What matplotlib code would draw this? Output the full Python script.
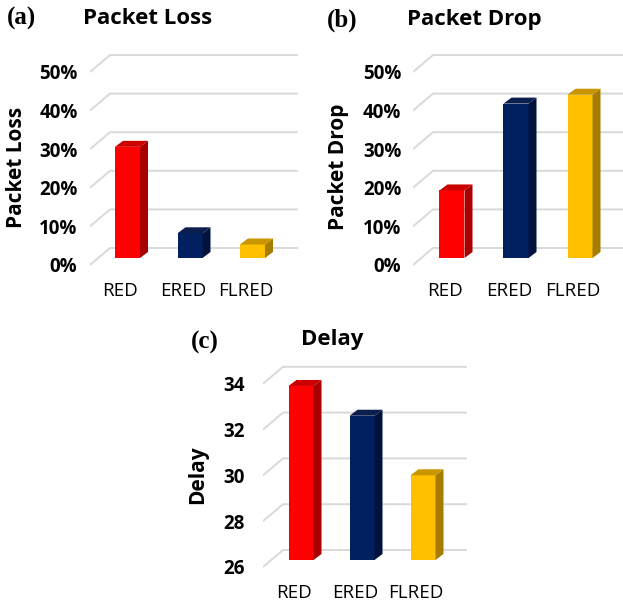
import numpy as np
import matplotlib
matplotlib.use("Agg")
import matplotlib.pyplot as plt
from matplotlib.patches import Polygon

# ---- data ----
categories = ["RED", "ERED", "FLRED"]
packet_loss = [28.8, 6.4, 3.5]        # %
packet_drop = [17.5, 40.0, 42.3]      # %
delay = [33.6, 32.3, 29.7]

pct_ticks = [0, 10, 20, 30, 40, 50]
pct_labels = ["0%", "10%", "20%", "30%", "40%", "50%"]
delay_ticks = [26, 28, 30, 32, 34]
delay_labels = ["26", "28", "30", "32", "34"]

front_colors = ["#FF0000", "#002060", "#FFC000"]
side_colors = ["#A80000", "#00133D", "#A67D00"]
top_colors = ["#CC0000", "#0B1E4E", "#C99600"]

W, H = 623, 604
fig = plt.figure(figsize=(W / 100, H / 100), dpi=100)

SANS = "Open Sans"
SERIF = "Liberation Serif"


def px_text(x, y, s, **kw):
    fig.text(x / W, 1 - y / H, s, **kw)


def panel(values, ticks, labels, vmin, box, y0, sy, cx0, sx, right_end,
          ytick_pad, ylabel, ylabel_xy, title, title_xy, letter, letter_xy):
    left, top, right, bottom = box
    ax = fig.add_axes([left / W, 1 - bottom / H, (right - left) / W, (bottom - top) / H])
    ax.set_xlim((left - cx0) / sx, (right - cx0) / sx)
    ax.set_ylim(vmin - (bottom - y0) / sy, vmin + (y0 - top) / sy)
    for s in ax.spines.values():
        s.set_visible(False)
    ax.patch.set_alpha(0)

    # floor / wall depth in data units
    back_dx, back_dy = 20 / sx, 17 / sy
    front_x = (left - cx0) / sx
    x_end = (right_end - cx0) / sx
    for t in ticks:
        ax.plot([front_x, front_x + back_dx, x_end], [t, t + back_dy, t + back_dy],
                color="#D9D9D9", lw=1.4, solid_capstyle="butt", zorder=1)

    # bars: front face from the axis scale, plus side and top faces
    x = np.arange(len(values))
    vals = np.asarray(values, dtype=float)
    bw = 25 / sx
    base = vmin + 7 / sy
    ddx, ddy = 8 / sx, 6 / sy
    ax.bar(x, vals - vmin, bottom=base, width=bw, color=front_colors,
           edgecolor="none", zorder=3)
    for i, v in enumerate(vals):
        topv = base + (v - vmin)
        xr, xl = x[i] + bw / 2, x[i] - bw / 2
        ax.add_patch(Polygon([(xr, base), (xr + ddx, base + ddy), (xr + ddx, topv + ddy), (xr, topv)],
                             closed=True, facecolor=side_colors[i], edgecolor="none", zorder=3))
        ax.add_patch(Polygon([(xl, topv), (xl + ddx, topv + ddy), (xr + ddx, topv + ddy), (xr, topv)],
                             closed=True, facecolor=top_colors[i], edgecolor="none", zorder=3))

    ax.set_yticks(ticks)
    ax.set_yticklabels(labels, fontfamily=SANS, fontweight="bold", fontsize=13.5)
    ax.tick_params(axis="y", length=0, pad=ytick_pad)
    ax.set_xticks(x - 7 / sx)
    ax.set_xticklabels(categories, fontfamily=SANS, fontsize=13.5)
    ax.tick_params(axis="x", length=0, pad=9)

    px_text(ylabel_xy[0], ylabel_xy[1], ylabel, rotation=90, ha="center", va="center",
            fontfamily=SANS, fontweight="bold", fontsize=15)
    px_text(title_xy[0], title_xy[1], title, ha="center", va="center",
            fontfamily=SANS, fontweight="bold", fontsize=16)
    px_text(letter_xy[0], letter_xy[1], letter, ha="left", va="center",
            fontfamily=SERIF, fontweight="bold", fontsize=18)
    return ax


# (a) Packet Loss
panel(packet_loss, pct_ticks, pct_labels, 0,
      box=(90, 40, 300, 270), y0=265, sy=3.86, cx0=127.5, sx=62.5, right_end=298,
      ytick_pad=9, ylabel="Packet Loss", ylabel_xy=(17, 167),
      title="Packet Loss", title_xy=(148, 18), letter="(a)", letter_xy=(7, 18))

# (b) Packet Drop
panel(packet_drop, pct_ticks, pct_labels, 0,
      box=(413, 40, 623, 270), y0=265, sy=3.86, cx0=452, sx=64, right_end=623,
      ytick_pad=8.5, ylabel="Packet Drop", ylabel_xy=(339, 167),
      title="Packet Drop", title_xy=(474, 20), letter="(b)", letter_xy=(327, 20))

# (c) Delay
panel(delay, delay_ticks, delay_labels, 26,
      box=(263, 355, 470, 572), y0=567, sy=22.9, cx0=301, sx=61, right_end=467,
      ytick_pad=13, ylabel="Delay", ylabel_xy=(198, 475),
      title="Delay", title_xy=(332, 340), letter="(c)", letter_xy=(191, 342))

fig.savefig("out.png", dpi=100)
